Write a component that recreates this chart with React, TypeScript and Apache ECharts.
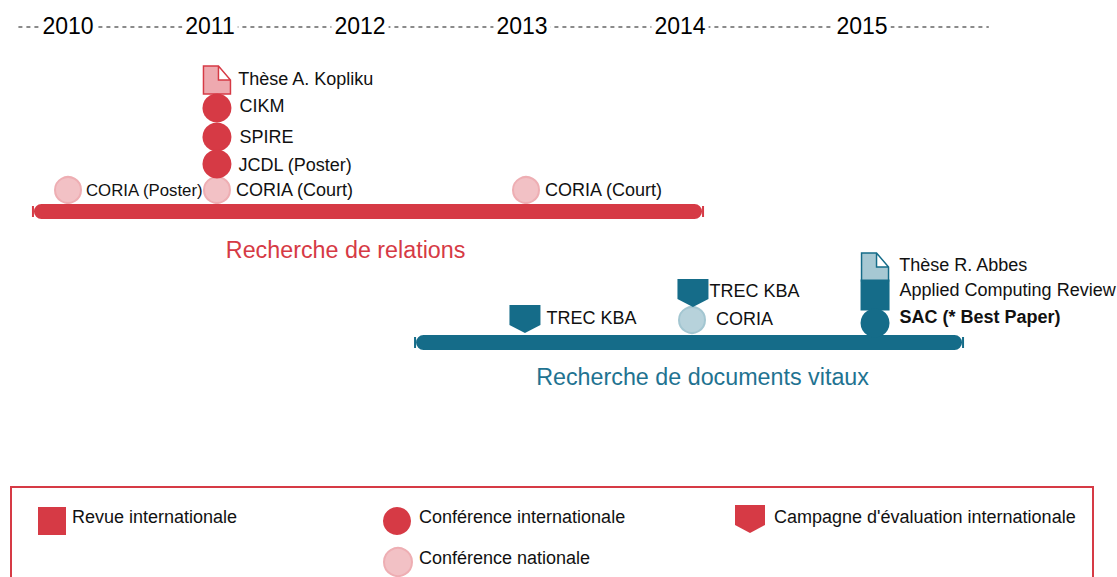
import React, { useEffect, useRef } from "react";
import * as echarts from "echarts";

const FONT = "Liberation Sans";
const RED = "#d63a45";
const TEAL = "#156c89";

// Timeline: positions are fractional years
const yearLabels = ["2010", "2011", "2012", "2013", "2014", "2015"];
const yearTicks = [2010, 2010.8875, 2011.825, 2012.8375, 2013.825, 2014.9625];
const timelineSpan = [2009.69, 2015.755];

// Research tracks
const trackNames = ["Recherche de relations", "Recherche de documents vitaux"];
const trackStart = [2009.806, 2012.194];
const trackEnd = [2013.944, 2015.569];
const trackRow = [211, 342];
const trackTitleYear = [2011.735, 2013.966];
const trackTitleRow = [250, 377];

// Publications of each track: name, year, row
const relNames = ["Thèse A. Kopliku", "CIKM", "SPIRE", "JCDL (Poster)", "CORIA (Poster)", "CORIA (Court)", "CORIA (Court)"];
const relKinds = ["these", "confInt", "confInt", "confInt", "confNat", "confNat", "confNat"];
const relYears = [2010.931, 2010.931, 2010.931, 2010.931, 2010, 2010.931, 2012.8625];
const relRows = [80, 108, 137, 164, 190, 190, 190];

const docNames = ["TREC KBA", "TREC KBA", "CORIA", "Thèse R. Abbes", "Applied Computing Review", "SAC (* Best Paper)"];
const docKinds = ["campagne", "campagne", "confNat", "these", "revue", "confInt"];
const docYears = [2012.856, 2013.906, 2013.9, 2015.044, 2015.044, 2015.044];
const docRows = [319, 293, 320, 267, 295, 323];

// Legend
const legendNames = {
  revue: "Revue internationale",
  confInt: "Conférence internationale",
  campagne: "Campagne d'évaluation internationale",
  confNat: "Conférence nationale",
  these: "Thèse",
};

// Styling: label gap from the symbol edge and vertical nudge, same order as the lists above
const relLabelNudge = [[7, -1], [8, -2], [8, 0], [7, 1], [4, 0], [5, 0], [5, 0]];
const docLabelNudge = [[6, -1], [1, -2], [10, -1], [10, -2], [10, -5], [10, -6]];

const PENNANT = "path://M0 0H30V20L15 28L0 20Z";
const DOC = "path://M0 0H15L27 14V28H0Z M15 0V14H27";

const kindStyle = (kind: string, color: string, light: string, lightBorder: string, docFill: string) => {
  switch (kind) {
    case "these":
      return { symbol: DOC, symbolSize: [27, 28], itemStyle: { color: docFill, borderColor: color, borderWidth: 1.5, opacity: 1 } };
    case "revue":
      return { symbol: "rect", symbolSize: [29, 31], itemStyle: { color, opacity: 1 } };
    case "campagne":
      return { symbol: PENNANT, symbolSize: [31, 28], itemStyle: { color, opacity: 1 } };
    case "confInt":
      return { symbol: "circle", symbolSize: 29, itemStyle: { color, opacity: 1 } };
    default:
      return { symbol: "circle", symbolSize: 26, itemStyle: { color: light, borderColor: lightBorder, borderWidth: 2, opacity: 1 } };
  }
};

const kindOrder = ["confNat", "these", "revue", "campagne", "confInt"];

function scatterFor(
  kinds: string[], names: string[], years: number[], rows: number[],
  nudges: number[][], color: string, light: string, lightBorder: string, docFill: string, suffix: string,
) {
  return kindOrder.map((kind, order) => ({
    type: "scatter",
    name: (legendNames as any)[kind] + suffix,
    z: 3 + order,
    silent: true,
    clip: false,
    ...kindStyle(kind, color, light, lightBorder, docFill),
    data: kinds
      .map((k, i) => ({ k, i }))
      .filter((e) => e.k === kind)
      .map(({ i }) => ({
        name: names[i],
        value: [years[i], rows[i]],
        label: {
          show: true,
          position: "right",
          distance: nudges[i][0],
          offset: [0, nudges[i][1]],
          formatter: names[i],
          color: "#111",
          fontFamily: FONT,
          fontSize: names[i] === "CORIA (Poster)" ? 16.8 : 18,
          fontWeight: names[i].startsWith("SAC") ? "bold" : "normal",
        },
      })),
  }));
}

export default function App() {
  const ref = useRef<HTMLDivElement>(null);

  useEffect(() => {
    const chart = echarts.init(ref.current!, undefined, { renderer: "svg" });

    // A blank second line lifts the legend text above the middle of its icon.
    const legendText = (left: number, up: number) => ({
      color: "#111", fontFamily: FONT, fontSize: 18, padding: [0, 0, 0, left], lineHeight: up * 2,
    });
    const legendBase = { orient: "horizontal", padding: 0, selectedMode: false, itemGap: 0, formatter: (n: string) => n + "\n " };

    chart.setOption({
      animation: false,
      grid: { left: 4, top: 0, width: 1104, height: 577 },
      xAxis: { type: "value", min: 2009.6, max: 2016.5, show: false },
      yAxis: { type: "value", min: 0, max: 577, inverse: true, show: false },
      legend: [
        { ...legendBase, left: 38, top: 507, itemWidth: 28, itemHeight: 28, textStyle: legendText(1, 4), data: [{ name: legendNames.revue, icon: "rect" }] },
        { ...legendBase, left: 383, top: 507, itemWidth: 28, itemHeight: 28, textStyle: legendText(3, 4), data: [{ name: legendNames.confInt, icon: "circle" }] },
        { ...legendBase, left: 735, top: 505, itemWidth: 30, itemHeight: 28, textStyle: legendText(4, 2), data: [{ name: legendNames.campagne, icon: PENNANT }] },
        { ...legendBase, left: 383, top: 547, itemWidth: 28, itemHeight: 28, textStyle: legendText(2, 4), data: [{ name: legendNames.confNat, icon: "circle" }] },
      ],
      graphic: [
        { type: "rect", shape: { x: 11, y: 487, width: 1082, height: 110 }, style: { fill: "none", stroke: RED, lineWidth: 2 } },
      ],
      series: [
        {
          type: "line",
          name: "Années",
          silent: true,
          symbol: "none",
          z: 1,
          lineStyle: { color: "#666", width: 1.5, type: [4, 4] },
          data: timelineSpan.map((y) => [y, 27]),
        },
        {
          type: "scatter",
          name: "Années (libellés)",
          silent: true,
          symbolSize: 0,
          z: 2,
          itemStyle: { opacity: 1 },
          data: yearLabels.map((name, i) => ({
            value: [yearTicks[i], 26],
            label: {
              show: true,
              position: "inside",
              formatter: name,
              color: "#000",
              fontFamily: FONT,
              fontSize: 23,
              backgroundColor: "#fff",
              padding: [0, 3],
            },
          })),
        },
        {
          type: "custom",
          name: "Axes de recherche",
          silent: true,
          z: 6,
          clip: false,
          renderItem: (_p: any, api: any) => {
            const a = api.coord([api.value(0), api.value(2)]);
            const b = api.coord([api.value(1), api.value(2)]);
            const fill = api.value(3) === 0 ? RED : TEAL;
            return {
              type: "group",
              children: [
                { type: "rect", shape: { x: a[0] - 3, y: a[1] - 7, width: b[0] - a[0] + 6, height: 15, r: 7.5 }, style: { fill } },
                { type: "rect", shape: { x: a[0] - 5, y: a[1] - 5, width: 2, height: 11 }, style: { fill } },
                { type: "rect", shape: { x: b[0] + 3, y: b[1] - 5, width: 2, height: 11 }, style: { fill } },
              ],
            };
          },
          data: trackNames.map((_, i) => [trackStart[i], trackEnd[i], trackRow[i], i]),
        },
        {
          type: "scatter",
          name: "Titres",
          silent: true,
          symbolSize: 0,
          z: 6,
          itemStyle: { opacity: 1 },
          data: trackNames.map((name, i) => ({
            value: [trackTitleYear[i], trackTitleRow[i]],
            label: {
              show: true,
              position: "inside",
              formatter: name,
              color: i === 0 ? RED : "#1f7391",
              fontFamily: FONT,
              fontSize: 23.3,
            },
          })),
        },
        ...scatterFor(relKinds, relNames, relYears, relRows, relLabelNudge, RED, "#f2c1c5", "#eeaeb3", "#eea9af", ""),
        ...scatterFor(docKinds, docNames, docYears, docRows, docLabelNudge, TEAL, "#b7d2db", "#a3c6d1", "#a6c8d3", " (documents)"),
      ],
    });

    return () => chart.dispose();
  }, []);

  return <div ref={ref} style={{ position: "fixed", left: 0, top: 0, width: 1117, height: 577, background: "#fff" }} />;
}
